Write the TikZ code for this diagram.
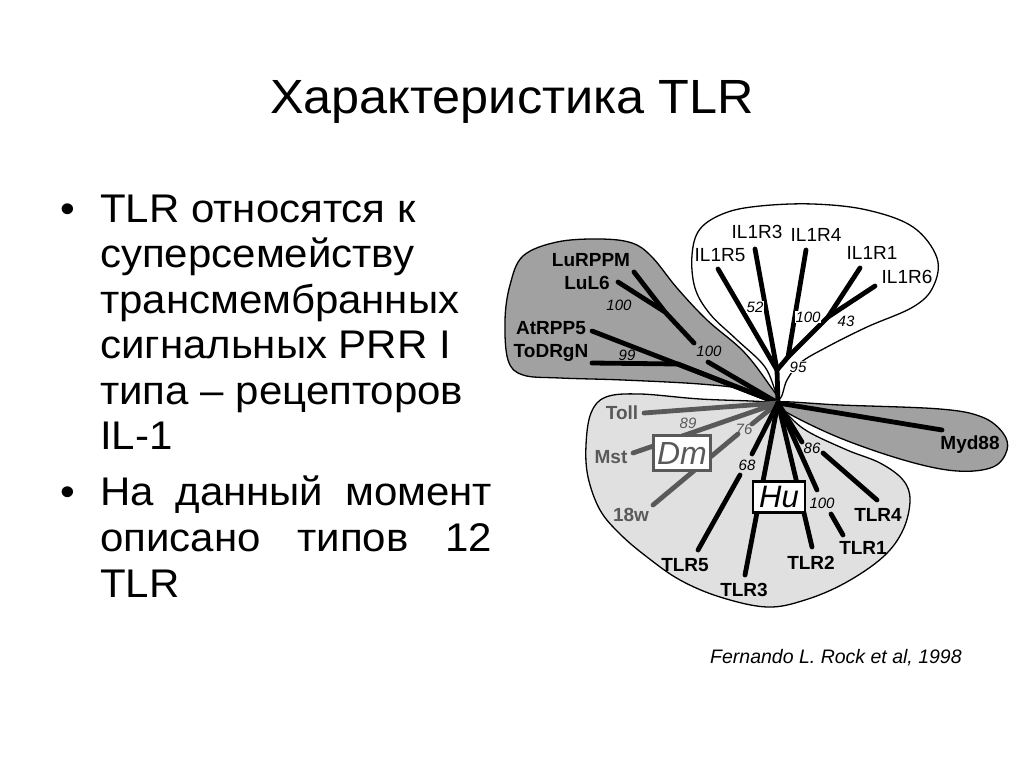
\documentclass[tikz,border=0pt]{standalone}
\usepackage{fontspec}
\setmainfont{Liberation Sans}
\newfontfamily\widefont{Liberation Sans}[FakeStretch=1.05]
\begin{document}
\begin{tikzpicture}[x=1pt,y=-1pt,
  blobline/.style={draw=black, line width=1.3pt},
  br/.style={line width=4.8pt, line cap=round, black},
  dmbr/.style={line width=4.8pt, line cap=round, draw=dmgray},
  lab/.style={font=\bfseries\fontsize{19}{20}\selectfont, inner sep=0pt},
  ilab/.style={font=\fontsize{19}{20}\selectfont, inner sep=0pt},
  num/.style={font=\itshape\fontsize{15}{16}\selectfont, inner sep=0.5pt},
  body/.style={font=\widefont\fontsize{40}{46}\selectfont, anchor=base west, inner sep=0pt},
]
\definecolor{dmgray}{gray}{0.35}
\definecolor{darkblob}{gray}{0.63}
\definecolor{lightblob}{gray}{0.88}
\useasboundingbox (0,0) rectangle (1024,768);
\fill[white] (0,0) rectangle (1024,768);

% title
\node[font=\widefont\fontsize{48}{52}\selectfont, anchor=base, inner sep=0pt] (title) at (512,113) {Характеристика TLR};

% body text
\node[body] (b1) at (60,222) {•};
\node[body] (l1) at (100,222) {TLR относятся к};
\node[body] (l2) at (100,267.5) {суперсемейству};
\node[body] (l3) at (100,313) {трансмембранных};
\node[body] (l4) at (100,358.5) {сигнальных PRR I};
\node[body] (l5) at (100,404) {типа – рецепторов};
\node[body] (l6) at (100,449.5) {IL-1};
\node[body] (b2) at (60,505) {•};
\node[body] (l7) at (100,505) {\hbox to 392pt{На\hfill данный\hfill момент}};
\node[body] (l8) at (100,551) {\hbox to 392pt{описано\hfill типов\hfill 12}};
\node[body] (l9) at (100,597) {TLR};

% citation
\node[font=\itshape\fontsize{19.5}{21}\selectfont, anchor=base west, inner sep=0pt] (cite) at (710,663) {Fernando L. Rock et al, 1998};

% ---------- blobs ----------
\coordinate (C) at (778,403);
% lower light blob
\filldraw[blobline, fill=lightblob] plot[smooth cycle, tension=0.6] coordinates {
 (778,403) (700,399) (640,394) (606,397) (591,413) (586,445) (588,477) (600,510)
 (620,534) (647,557) (680,580) (720,597) (767,607) (805,600) (845,583) (883,557)
 (903,530) (910,500) (903,480) (880,463) (847,450) (807,431) (786,413)};
% Myd88 blob
\filldraw[blobline, fill=darkblob] plot[smooth cycle, tension=0.6] coordinates {
 (778,402) (840,405) (940,409) (982,417) (1003,433) (1007,450) (993,467) (957,471)
 (907,461) (840,438) (786,412)};
% upper left dark blob
\filldraw[blobline, fill=darkblob] plot[smooth cycle, tension=0.6] coordinates {
 (778,401) (750,390) (700,384) (623,380) (560,378) (523,375) (508,360) (505,320)
 (510,285) (523,256) (557,242) (600,239) (632,243) (652,257) (677,288) (707,320)
 (743,351) (768,383)};
% IL1R white blob
\filldraw[blobline, fill=white] plot[smooth cycle, tension=0.6] coordinates {
 (779,398) (765,367) (736,339) (710,314) (695,288) (692,255) (700,229) (725,213)
 (760,206) (813,204) (867,210) (913,227) (937,258) (933,287) (913,307) (867,327)
 (827,347) (800,363) (787,380)};

% ---------- upper-left clade ----------
\node[lab] (LuRPPM) at (591,260) {LuRPPM};
\node[lab] (LuL6) at (587,283) {LuL6};
\node[lab] (AtRPP5) at (551,328) {AtRPP5};
\node[lab] (ToDRgN) at (551,353) {ToDRgN};
\coordinate (eLuRPPM) at (634,272);
\coordinate (eLuL6) at (618,282);
\coordinate (jLu) at (665,312);
\coordinate (jLu2) at (694,343);
\coordinate (jLu3) at (708,362);
\coordinate (eAt) at (592,331);
\coordinate (eTo) at (592,363);
\coordinate (jTo) at (678,364);
\draw[br] (eLuRPPM) -- (jLu);
\draw[br] (eLuL6) -- (jLu) -- (jLu2);
\draw[br] (jLu3) -- (C);
\draw[br] (eAt) -- (C);
\draw[br] (eTo) -- (jTo) -- (C);
\node[num] (n100a) at (619,305) {100};
\node[num] (n99) at (627,355) {99};
\node[num] (n100b) at (709,351) {100};

% ---------- IL1R clade ----------
\node[ilab] (IL1R5) at (720,255) {IL1R5};
\node[ilab] (IL1R3) at (757,232) {IL1R3};
\node[ilab] (IL1R4) at (816,235) {IL1R4};
\node[ilab] (IL1R1) at (872,253) {IL1R1};
\node[ilab] (IL1R6) at (907,277) {IL1R6};
\coordinate (eR5) at (718,269);
\coordinate (eR3) at (755,249);
\coordinate (eR4) at (806,250);
\coordinate (eR1) at (860,268);
\coordinate (eR6) at (875,286);
\coordinate (jR16) at (828,317);
\coordinate (jR41) at (788,357);
\coordinate (jR53) at (777,370);
\draw[br] (eR5) -- (jR53);
\draw[br] (eR3) -- (jR53);
\draw[br] (eR4) -- (jR41);
\draw[br] (eR1) -- (jR16) -- (jR41);
\draw[br] (eR6) -- (jR16);
\draw[br] (jR41) -- (jR53) -- (C);
\node[num, fill=white] (n52) at (755,307) {52};
\node[num, fill=white] (n100c) at (808,317) {100};
\node[num, fill=white] (n43) at (846,321) {43};
\node[num, fill=white] (n95) at (798,367) {95};

% ---------- Myd88 ----------
\node[lab] (Myd88) at (970,445) {Myd88};
\coordinate (eMyd) at (942,430);
\draw[br] (eMyd) -- (C);

% ---------- Dm clade ----------
\node[lab, text=dmgray] (Toll) at (622,413) {Toll};
\node[lab, text=dmgray] (Mst) at (611,457) {Mst};
\node[lab, text=dmgray] (w18) at (631,515) {18w};
\coordinate (eToll) at (644,413);
\coordinate (eMst) at (633,453);
\coordinate (e18) at (653,505);
\coordinate (j18a) at (738,434);
\coordinate (j18b) at (752,424);
\draw[dmbr] (eToll) -- (C);
\draw[dmbr] (eMst) -- (C);
\draw[dmbr] (e18) -- (j18a);
\draw[dmbr] (j18b) -- (C);
\node[num, text=dmgray] (n89) at (688,423) {89};
\node[num, text=dmgray] (n76) at (744,429) {76};
\node[draw=dmgray, line width=3pt, fill=white, minimum width=57pt, minimum height=35pt, inner sep=0pt,
  text=dmgray, font=\itshape\fontsize{32}{34}\selectfont] (Dm) at (682,453) {Dm};

% ---------- Hu clade ----------
\node[lab] (TLR5) at (685,565) {TLR5};
\node[lab] (TLR3) at (744,590) {TLR3};
\node[lab] (TLR2) at (811,563) {TLR2};
\node[lab] (TLR1) at (863,548) {TLR1};
\node[lab] (TLR4) at (878,515) {TLR4};
\coordinate (eT5) at (698,550);
\coordinate (jT5a) at (740,475);
\coordinate (jT5b) at (752,454);
\coordinate (eT3) at (745,575);
\coordinate (eT2) at (812,547);
\coordinate (eT1) at (843,535);
\coordinate (jT1a) at (831,514);
\coordinate (jT1b) at (817,490);
\coordinate (eT4) at (877,500);
\coordinate (jT4a) at (823,453);
\coordinate (jT4b) at (802,442);
\draw[br] (eT5) -- (jT5a);
\draw[br] (jT5b) -- (C);
\draw[br] (eT3) -- (C);
\draw[br] (eT2) -- (C);
\draw[br] (eT1) -- (jT1a);
\draw[br] (jT1b) -- (C);
\draw[br] (eT4) -- (jT4a);
\draw[br] (jT4b) -- (C);
\node[num] (n68) at (747,465) {68};
\node[num] (n100d) at (822,503) {100};
\node[num] (n86) at (812,448) {86};
\node[draw=black, line width=2.5pt, fill=white, minimum width=52pt, minimum height=31pt, inner sep=0pt,
  font=\itshape\fontsize{31}{33}\selectfont] (Hu) at (779,497) {Hu};
\end{tikzpicture}
\end{document}
